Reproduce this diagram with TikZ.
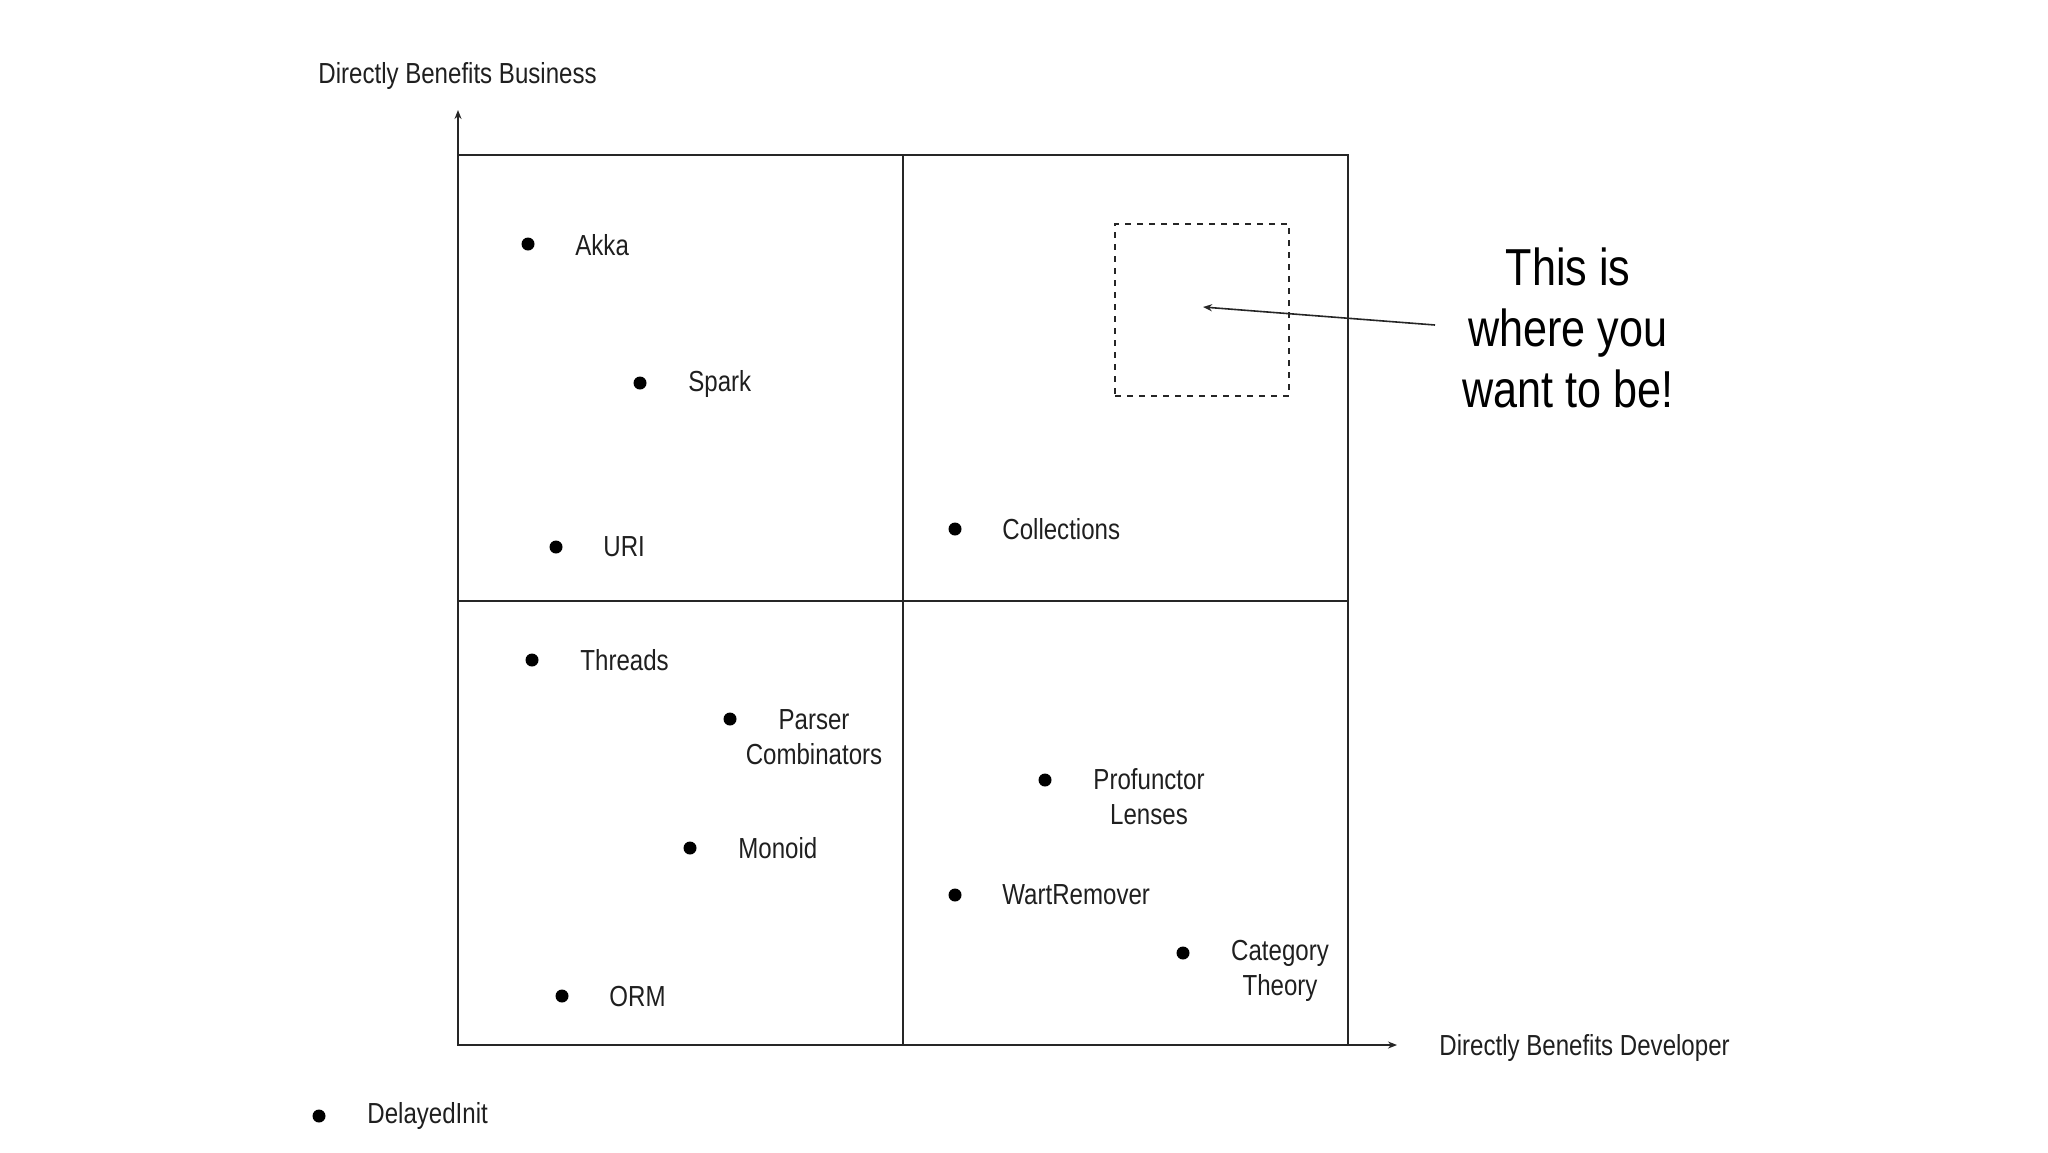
\documentclass[tikz,border=0pt]{standalone}
\usepackage{fontspec}
\setmainfont[FakeStretch=0.83]{Liberation Sans}
\usetikzlibrary{arrows.meta}
\begin{document}
\begin{tikzpicture}[x=0.5pt,y=-0.5pt,
  lbl/.style={inner sep=0pt,font=\fontsize{14.5pt}{17.5pt}\selectfont,text=black!88},
  mlbl/.style={lbl,align=center},
  dotn/.style={circle,fill=black,inner sep=0pt,minimum size=6.5pt},
  gridline/.style={line width=1pt,black!85},
  axis/.style={line width=0.8pt,black!85,-{Stealth[length=4.5pt,width=3.5pt]}},
  big/.style={inner sep=0pt,align=center,font=\fontsize{26pt}{30.5pt}\selectfont}]
\useasboundingbox (0,0) rectangle (2048,1152);
% grid
\coordinate (bl) at (458,1045);
\coordinate (tr) at (1348,155);
\coordinate (ytip) at (458,110);
\coordinate (xtip) at (1397,1045);
\draw[gridline] (458,155) rectangle (1348,1045);
\draw[gridline] (902.5,155) -- (902.5,1045);
\draw[gridline] (458,601) -- (1348,601);
\draw[axis] (bl) -- (ytip);
\draw[axis] (bl) -- (xtip);
% axis labels
\node[lbl,anchor=west] (yl) at (318,76) {Directly Benefits Business};
\node[lbl,anchor=west] (xl) at (1439,1048) {Directly Benefits Developer};
% items
\node[dotn] (d1) at (528,244) {};  \node[lbl,anchor=west] (l1) at (575,245) {Akka};
\node[dotn] (d2) at (640,383) {};  \node[lbl,anchor=west] (l2) at (688,384) {Spark};
\node[dotn] (d3) at (556,547) {};  \node[lbl,anchor=west] (l3) at (603,547) {URI};
\node[dotn] (d4) at (955,529) {};  \node[lbl,anchor=west] (l4) at (1002,529) {Collections};
\node[dotn] (d5) at (532,660) {};  \node[lbl,anchor=west] (l5) at (580,660) {Threads};
\node[dotn] (d6) at (730,719) {};  \node[mlbl] (l6) at (814,737) {Parser\\Combinators};
\node[dotn] (d7) at (690,848) {};  \node[lbl,anchor=west] (l7) at (738,848) {Monoid};
\node[dotn] (d8) at (562,996) {};  \node[lbl,anchor=west] (l8) at (609,996) {ORM};
\node[dotn] (d9) at (1045,780) {}; \node[mlbl] (l9) at (1149,797) {Profunctor\\Lenses};
\node[dotn] (d10) at (955,895) {}; \node[lbl,anchor=west] (l10) at (1002,895) {WartRemover};
\node[dotn] (d11) at (1183,953) {}; \node[mlbl] (l11) at (1280,971) {Category\\Theory};
\node[dotn] (d12) at (319,1116) {}; \node[lbl,anchor=west] (l12) at (367,1116) {DelayedInit};
% target box and callout
\node[draw,dashed,line width=0.7pt,black!85,minimum width=87pt,minimum height=86pt,inner sep=0pt] (box) at (1202,310) {};
\node[big] (call) at (1568,328) {This is\\where you\\want to be!};
\coordinate (astart) at (1435,325);
\coordinate (aend) at (1203,307);
\draw[line width=0.8pt,black!85,-{Stealth[length=4.5pt,width=3.5pt]}] (astart) -- (aend);
\end{tikzpicture}
\end{document}
